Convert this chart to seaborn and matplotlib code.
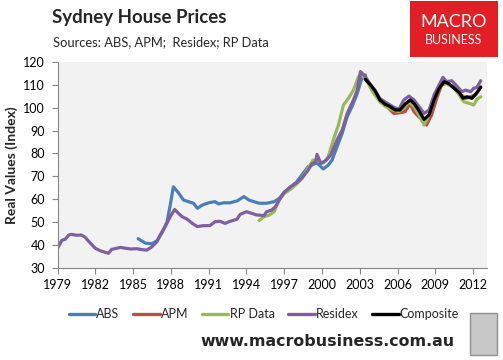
import matplotlib
matplotlib.use("Agg")
import matplotlib.pyplot as plt
import seaborn as sns
import pandas as pd
from matplotlib.patches import Rectangle
from matplotlib.lines import Line2D

residex_x = [1979.0, 1979.35, 1979.6, 1979.9, 1980.1, 1980.5, 1980.9, 1981.2, 1981.5, 1982.0, 1982.4,
             1983.05, 1983.3, 1983.7, 1984.0, 1984.4, 1984.8, 1985.3, 1985.7, 1986.1, 1986.5, 1986.9,
             1987.15, 1987.55, 1987.95, 1988.3, 1988.6, 1988.9, 1989.3, 1989.7, 1990.1, 1990.6, 1991.1,
             1991.5, 1991.9, 1992.3, 1992.7, 1993.25, 1993.5, 1994.0, 1994.4, 1994.8, 1995.4, 1995.6,
             1996.0, 1996.3, 1996.6, 1997.0, 1997.5, 1998.0, 1998.4, 1998.9, 1999.2, 1999.5, 1999.6,
             1999.9, 2000.3, 2000.7, 2001.2, 2001.6, 2002.0, 2002.25, 2002.5, 2002.8, 2003.05, 2003.45,
             2003.85, 2004.2, 2004.6, 2005.2, 2005.7, 2006.1, 2006.5, 2006.9, 2007.3, 2007.7, 2008.1,
             2008.5, 2008.9, 2009.3, 2009.6, 2009.9, 2010.3, 2010.7, 2011.1, 2011.4, 2011.8, 2012.05,
             2012.3, 2012.6]
residex_y = [38.5, 42.0, 42.4, 44.3, 44.6, 44.2, 44.3, 43.3, 41.4, 38.5, 37.4,
             36.3, 38.0, 38.5, 38.9, 38.5, 38.2, 38.3, 37.9, 37.7, 39.2, 41.4,
             44.3, 48.0, 52.3, 55.5, 53.8, 52.3, 51.2, 49.4, 48.0, 48.4, 48.4,
             50.1, 50.3, 49.4, 50.3, 51.2, 53.3, 54.5, 53.8, 53.1, 52.8, 54.5,
             55.2, 56.7, 59.6, 63.0, 65.4, 67.2, 69.1, 72.7, 75.4, 76.4, 79.6,
             75.7, 76.8, 79.3, 85.9, 90.2, 97.5, 100.5, 103.4, 107.7, 115.8, 113.6,
             110.0, 107.7, 104.0, 101.9, 100.2, 99.3, 103.4, 105.1, 103.4, 100.5, 97.5,
             99.0, 105.6, 110.0, 113.3, 111.4, 111.8, 109.5, 107.0, 107.7, 107.0, 108.5,
             108.9, 111.8]

abs_x = [1985.4, 1986.0, 1986.5, 1986.9, 1987.3, 1987.7, 1987.95, 1988.2, 1988.6, 1989.0, 1989.4,
         1989.8, 1990.1, 1990.5, 1991.0, 1991.5, 1991.8, 1992.2, 1992.7, 1993.25, 1993.8, 1994.2,
         1994.6, 1995.0, 1995.6, 1996.2, 1996.6, 1997.0, 1997.5, 1998.0, 1998.4, 1998.9, 1999.5,
         1999.7, 2000.1, 2000.5, 2000.8, 2001.2, 2001.6, 2002.0, 2002.4, 2002.8, 2003.2, 2003.45]
abs_y = [42.7, 40.7, 40.5, 41.8, 45.3, 50.1, 57.4, 65.4, 62.8, 59.6, 58.9,
         58.2, 56.0, 57.4, 58.4, 58.9, 57.9, 58.4, 58.4, 59.2, 61.1, 59.6,
         58.9, 58.2, 58.2, 58.9, 60.3, 63.0, 65.2, 67.6, 70.6, 74.2, 75.7,
         75.4, 73.2, 74.9, 77.1, 83.0, 88.8, 96.1, 100.7, 106.3, 113.6, 114.3]

rp_x = [1995.0, 1995.4, 1995.8, 1996.2, 1996.6, 1997.0, 1997.5, 1997.9, 1998.3, 1998.8, 1999.3,
        1999.7, 2000.1, 2000.5, 2000.9, 2001.3, 2001.7, 2002.1, 2002.5, 2002.9, 2003.2, 2003.6,
        2004.0, 2004.5, 2005.05, 2005.6, 2006.1, 2006.5, 2006.9, 2007.3, 2007.7, 2008.1, 2008.5,
        2008.9, 2009.3, 2009.7, 2010.1, 2010.5, 2010.9, 2011.25, 2011.7, 2012.05, 2012.3, 2012.6]
rp_y = [50.6, 52.3, 53.0, 54.5, 59.6, 62.5, 64.3, 66.2, 68.4, 72.7, 77.1,
        76.8, 75.7, 78.6, 85.9, 92.4, 101.2, 104.1, 107.7, 113.6, 114.3, 111.4,
        107.0, 103.4, 100.5, 99.0, 98.3, 99.7, 102.6, 100.5, 96.8, 92.4, 96.8,
        103.4, 108.5, 111.0, 110.0, 108.5, 105.6, 102.6, 101.9, 101.2, 103.7, 104.8]

apm_x = [2003.2, 2003.6, 2004.1, 2004.6, 2005.2, 2005.7, 2006.25, 2006.6, 2007.0, 2007.3, 2007.8,
         2008.3, 2008.7, 2009.15, 2009.5, 2009.9, 2010.5, 2010.9, 2011.4, 2011.8, 2012.2, 2012.6]
apm_y = [114.3, 111.4, 107.7, 102.6, 100.2, 97.5, 97.8, 98.3, 101.9, 98.3, 95.4,
         92.4, 96.8, 104.8, 110.0, 110.7, 108.9, 106.3, 104.1, 104.8, 105.6, 109.2]

comp_x = [2003.45, 2003.85, 2004.2, 2004.6, 2005.0, 2005.4, 2005.8, 2006.2, 2006.6, 2007.0, 2007.3,
          2007.7, 2008.1, 2008.5, 2008.9, 2009.3, 2009.7, 2010.1, 2010.5, 2010.9, 2011.2, 2011.5,
          2011.9, 2012.3, 2012.6]
comp_y = [112.4, 110.0, 107.5, 103.4, 101.6, 100.5, 99.0, 99.0, 101.6, 103.4, 101.9,
          98.7, 94.9, 96.8, 103.4, 108.5, 111.4, 110.4, 108.5, 106.6, 104.1, 104.8,
          104.1, 106.6, 108.9]

series_names = ["ABS", "APM", "RP Data", "Residex", "Composite"]
series_colors = ["#4A7EBB", "#BE4B48", "#98B954", "#7D60A0", "#000000"]
year_ticks = list(range(1979, 2013, 3))
value_ticks = list(range(30, 121, 10))

sns.set_style("white")
plt.rcParams['font.family'] = ['Lato', 'DejaVu Sans']

fig = plt.figure(figsize=(5.03, 3.6), dpi=100)
ax = fig.add_axes([57.5 / 503, 1 - 267.7 / 360, (487 - 57.5) / 503, (267.7 - 62) / 360])
ax.set_facecolor("#F2F2F2")

data = {
    "ABS": (abs_x, abs_y),
    "APM": (apm_x, apm_y),
    "RP Data": (rp_x, rp_y),
    "Residex": (residex_x, residex_y),
    "Composite": (comp_x, comp_y),
}
for name, color in zip(series_names, series_colors):
    xs, ys = data[name]
    df = pd.DataFrame({"year": xs, "value": ys})
    sns.lineplot(data=df, x="year", y="value", ax=ax, color=color, lw=2.3,
                 sort=False, estimator=None, legend=False)

ax.set_xlim(1979, 2013.1)
ax.set_ylim(30, 120)
ax.set_xticks(year_ticks)
ax.set_yticks(value_ticks)
ax.set_xticklabels([str(t) for t in year_ticks], fontsize=9)
ax.set_yticklabels([str(t) for t in value_ticks], fontsize=9)
ax.set_xlabel("")
ax.set_ylabel("Real Values (Index)", fontsize=10, fontweight="bold", labelpad=4)
for s in ["top", "right"]:
    ax.spines[s].set_visible(False)
for s in ["left", "bottom"]:
    ax.spines[s].set_color("#868686")
    ax.spines[s].set_linewidth(0.8)
ax.tick_params(axis="both", direction="out", length=4, width=0.8, color="#868686",
               labelcolor="black", bottom=True, left=True)
ax.tick_params(axis="y", pad=5)
ax.tick_params(axis="x", pad=4)
ax.grid(False)

handles = [Line2D([0], [0], color=c, lw=2.4) for c in series_colors]
fig.legend(handles, series_names, loc="center", bbox_to_anchor=(264 / 503, 1 - 314 / 360),
           ncol=5, frameon=False, fontsize=9, handlelength=2.1, handletextpad=0.1,
           columnspacing=1.1)

fig.text(52 / 503, 1 - 18 / 360, "Sydney House Prices", fontsize=13.5, fontweight="bold",
         ha="left", va="center")
fig.text(53 / 503, 1 - 42 / 360, "Sources: ABS, APM;  Residex; RP Data", fontsize=9.3,
         ha="left", va="center")

# logo
fig.patches.append(Rectangle((410 / 503, 1 - 57 / 360), 88 / 503, 56 / 360,
                             transform=fig.transFigure, facecolor="#E41E26", edgecolor="none"))
fig.text(454 / 503, 1 - 22 / 360, "MACRO", fontsize=13, color="white", ha="center", va="center",
         family=["Lato", "DejaVu Sans"])
fig.text(454 / 503, 1 - 40 / 360, "BUSINESS", fontsize=9, color="white", ha="center", va="center",
         family=["Lato", "DejaVu Sans"])

fig.text(455 / 503, 1 - 342 / 360, "www.macrobusiness.com.au", fontsize=11.4, fontweight="bold",
         ha="right", va="center", family=["DejaVu Sans"])
fig.patches.append(Rectangle((470 / 503, 1 - 355 / 360), 27 / 503, 42 / 360,
                             transform=fig.transFigure, facecolor="#C8C8C8", edgecolor="#909090",
                             lw=1))

fig.savefig("out.png", dpi=100)
